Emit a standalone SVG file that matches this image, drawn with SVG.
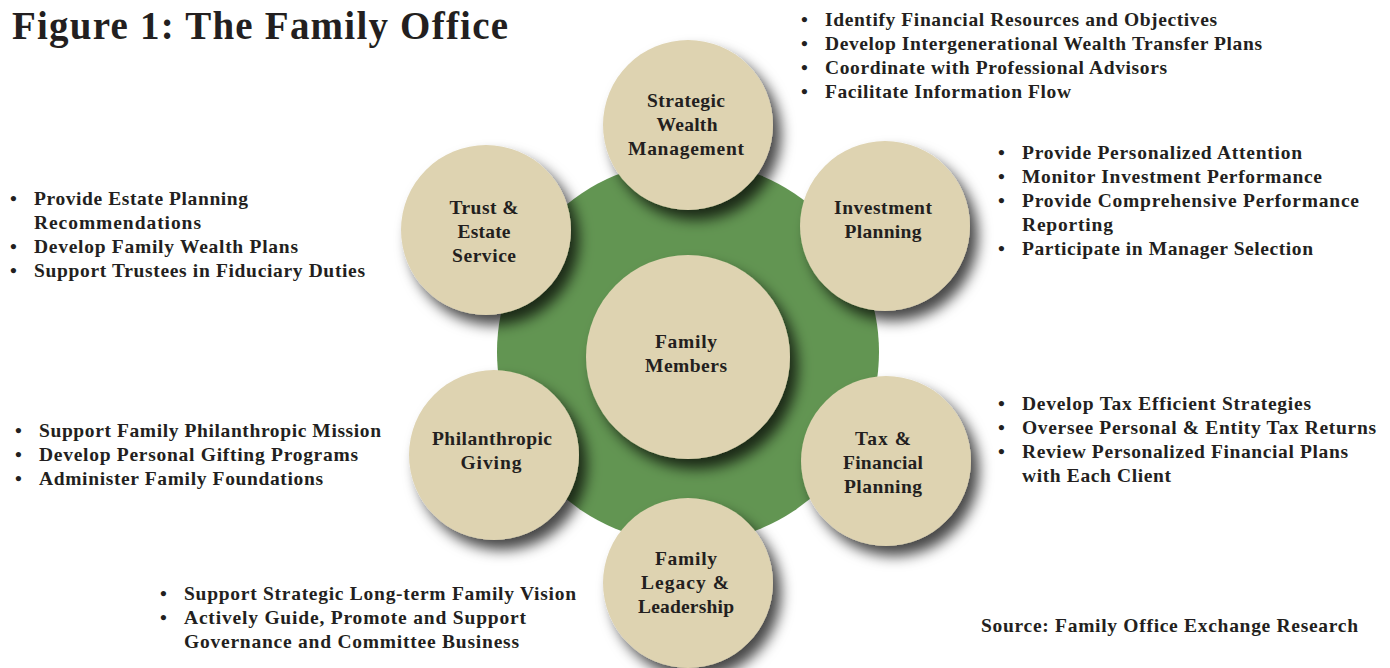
<svg xmlns="http://www.w3.org/2000/svg" width="1390" height="668" viewBox="0 0 1390 668">
<defs>
<filter id="sh" x="-30%" y="-30%" width="170%" height="170%">
<feDropShadow dx="8" dy="10" stdDeviation="7" flood-color="#000" flood-opacity="0.72"/>
</filter>
<style>
text{font-family:"Liberation Serif","Times New Roman",serif;font-weight:bold;fill:#231f20}
.title{font-size:39px}
.node circle{fill:#ded3b1}
.lbl{font-size:19.5px;text-anchor:middle}
.b{font-size:19.5px}
</style>
</defs>
<rect width="1390" height="668" fill="#fff"/>
<text class="title" x="12" y="39" textLength="496">Figure 1: The Family Office</text>
<g id="hub"><circle cx="688" cy="352" r="191" fill="#629552"/></g>
<g id="connectors"></g>
<g id="n-strategic" class="node"><circle cx="688" cy="125" r="85" filter="url(#sh)"/>
<text class="lbl" x="686" y="107" textLength="78">Strategic</text><text class="lbl" x="687" y="131" textLength="61">Wealth</text><text class="lbl" x="686" y="155" textLength="116">Management</text></g>
<g id="n-investment" class="node"><circle cx="885" cy="226" r="85" filter="url(#sh)"/>
<text class="lbl" x="883" y="214" textLength="98">Investment</text><text class="lbl" x="883" y="238" textLength="77">Planning</text></g>
<g id="n-trust" class="node"><circle cx="486" cy="230" r="85" filter="url(#sh)"/>
<text class="lbl" x="484" y="214" textLength="69">Trust &amp;</text><text class="lbl" x="484" y="238" textLength="53">Estate</text><text class="lbl" x="484" y="262" textLength="64">Service</text></g>
<g id="n-family" class="node"><circle cx="688" cy="357" r="102" filter="url(#sh)"/>
<text class="lbl" x="686" y="348" textLength="62">Family</text><text class="lbl" x="686" y="372" textLength="82">Members</text></g>
<g id="n-philanthropic" class="node"><circle cx="494" cy="455" r="85" filter="url(#sh)"/>
<text class="lbl" x="492" y="445" textLength="120">Philanthropic</text><text class="lbl" x="491" y="469" textLength="61">Giving</text></g>
<g id="n-tax" class="node"><circle cx="886" cy="461" r="85" filter="url(#sh)"/>
<text class="lbl" x="883" y="445" textLength="56">Tax &amp;</text><text class="lbl" x="883" y="469" textLength="80">Financial</text><text class="lbl" x="883" y="493" textLength="78">Planning</text></g>
<g id="n-legacy" class="node"><circle cx="688" cy="583" r="85" filter="url(#sh)"/>
<text class="lbl" x="686" y="565" textLength="62">Family</text><text class="lbl" x="685" y="589" textLength="88">Legacy &amp;</text><text class="lbl" x="686" y="613" textLength="96">Leadership</text></g>

<g id="list-strategic" class="b">
<text x="801" y="26">•</text><text x="825" y="26" textLength="392">Identify Financial Resources and Objectives</text>
<text x="801" y="50">•</text><text x="825" y="50" textLength="437">Develop Intergenerational Wealth Transfer Plans</text>
<text x="801" y="74">•</text><text x="825" y="74" textLength="342">Coordinate with Professional Advisors</text>
<text x="801" y="98">•</text><text x="825" y="98" textLength="246">Facilitate Information Flow</text>
</g>
<g id="list-investment" class="b">
<text x="998" y="159">•</text><text x="1022" y="159" textLength="280">Provide Personalized Attention</text>
<text x="998" y="183">•</text><text x="1022" y="183" textLength="300">Monitor Investment Performance</text>
<text x="998" y="207">•</text><text x="1022" y="207" textLength="337">Provide Comprehensive Performance</text>
<text x="1022" y="231" textLength="91">Reporting</text>
<text x="998" y="255">•</text><text x="1022" y="255" textLength="291">Participate in Manager Selection</text>
</g>
<g id="list-trust" class="b">
<text x="10" y="205">•</text><text x="34" y="205" textLength="214">Provide Estate Planning</text>
<text x="34" y="229" textLength="167">Recommendations</text>
<text x="10" y="253">•</text><text x="34" y="253" textLength="264">Develop Family Wealth Plans</text>
<text x="10" y="277">•</text><text x="34" y="277" textLength="331">Support Trustees in Fiduciary Duties</text>
</g>
<g id="list-philanthropic" class="b">
<text x="15" y="437">•</text><text x="39" y="437" textLength="342">Support Family Philanthropic Mission</text>
<text x="15" y="461">•</text><text x="39" y="461" textLength="319">Develop Personal Gifting Programs</text>
<text x="15" y="485">•</text><text x="39" y="485" textLength="284">Administer Family Foundations</text>
</g>
<g id="list-tax" class="b">
<text x="998" y="410">•</text><text x="1022" y="410" textLength="289">Develop Tax Efficient Strategies</text>
<text x="998" y="434">•</text><text x="1022" y="434" textLength="354">Oversee Personal &amp; Entity Tax Returns</text>
<text x="998" y="458">•</text><text x="1022" y="458" textLength="326">Review Personalized Financial Plans</text>
<text x="1022" y="482" textLength="149">with Each Client</text>
</g>
<g id="list-legacy" class="b">
<text x="160" y="600">•</text><text x="184" y="600" textLength="392">Support Strategic Long-term Family Vision</text>
<text x="160" y="624">•</text><text x="184" y="624" textLength="342">Actively Guide, Promote and Support</text>
<text x="184" y="648" textLength="335">Governance and Committee Business</text>
</g>
<text class="b" x="981" y="632" textLength="377">Source: Family Office Exchange Research</text>
</svg>
